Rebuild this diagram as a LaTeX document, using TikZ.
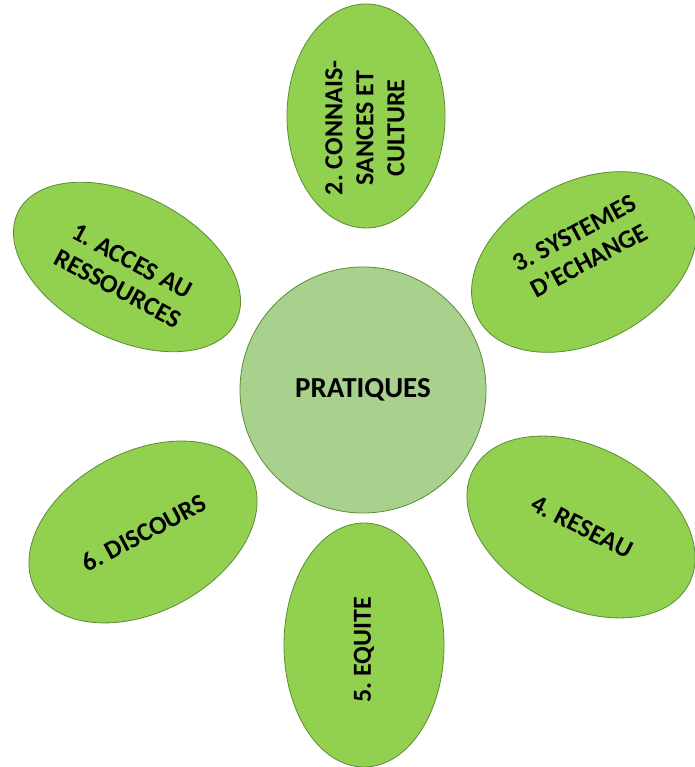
\documentclass[tikz,border=0pt]{standalone}
\usepackage{fontspec}
\setmainfont{Carlito}
\usetikzlibrary{calc}
\frenchspacing

\definecolor{petalgreen}{HTML}{92D050}
\definecolor{heartgreen}{HTML}{A9D18E}
\definecolor{rimgreen}{HTML}{5B8C34}

\tikzset{
  petal/.style={fill=petalgreen, draw=rimgreen, line width=0.8pt},
  heart/.style={fill=heartgreen, draw=rimgreen, line width=0.8pt},
  petaltext/.style={align=center, inner sep=0pt, font=\fontsize{26}{31}\selectfont\bfseries}
}

\begin{document}
\begin{tikzpicture}[x=1pt,y=1pt]
\useasboundingbox (0,0) rectangle (694,767);

% petals
\draw[petal] (366,651) ellipse [x radius=79, y radius=112];
\draw[petal] (364,122) ellipse [x radius=80, y radius=122];
\draw[petal] (127,500) ellipse [x radius=122, y radius=72, rotate=-27];
\draw[petal] (584,505) ellipse [x radius=120, y radius=80, rotate=28];
\draw[petal] (581,240) ellipse [x radius=122, y radius=80, rotate=-28];
\draw[petal] (143,235) ellipse [x radius=122, y radius=80, rotate=28];

% centre
\draw[heart] (363,377) circle (123);
\node[petaltext, font=\fontsize{29}{31}\selectfont\bfseries] (pratiques) at (363,377) {PRATIQUES};

% labels
\node[petaltext, rotate=-28] (acces) at (125,492) {1. ACCES AU\\RESSOURCES};
\node[petaltext, rotate=90] (savoirs) at (365,639) {2. CONNAIS-\\SANCES ET\\CULTURE};
\node[petaltext, rotate=28] (echange) at (582,520) {3. SYSTEMES\\D’ECHANGE};
\node[petaltext, rotate=-27] (reseau) at (582,240) {4. RESEAU};
\node[petaltext, rotate=90] (equite) at (364,117) {5. EQUITE};
\node[petaltext, rotate=28] (discours) at (144,234) {6. DISCOURS};

\end{tikzpicture}
\end{document}
